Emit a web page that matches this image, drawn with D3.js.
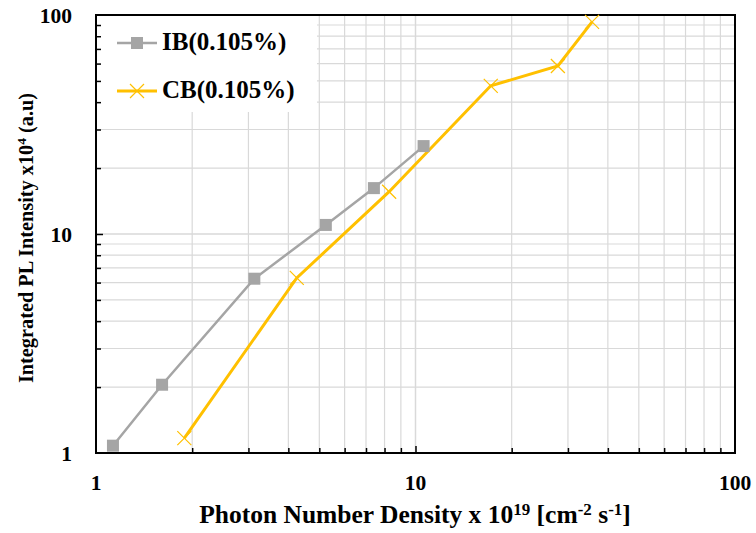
<!DOCTYPE html>
<html><head><meta charset="utf-8">
<script src="https://cdn.jsdelivr.net/npm/d3@7"></script>
<style>
html,body{margin:0;padding:0;background:#fff;}
svg{display:block;font-family:"Liberation Serif","Times New Roman",serif;font-weight:bold;}
</style></head>
<body><svg id="c" width="756" height="533"></svg>
<script>
const ibX = [1.13, 1.61, 3.13, 5.24, 7.41, 10.6];
const ibY = [1.08, 2.05, 6.25, 11.0, 16.2, 25.2];
const cbX = [1.89, 4.25, 8.27, 17.2, 27.9, 35.7];
const cbY = [1.17, 6.3, 15.6, 47.5, 58.5, 93];
const seriesNames = ["IB(0.105%)", "CB(0.105%)"];
const xTicks = [1, 10, 100];
const yTicks = [1, 10, 100];

const W = 756, H = 533;
const m = {l: 96, r: 21, t: 15, b: 80};
const svg = d3.select("#c");
const x = d3.scaleLog().domain([1, 100]).range([m.l, W - m.r]);
const y = d3.scaleLog().domain([1, 100]).range([H - m.b, m.t]);

const minorX = [], minorY = [];
for (const d of [1, 10]) for (let k = 2; k <= 9; k++) { minorX.push(d * k); minorY.push(d * k); }

const grid = svg.append("g");
grid.selectAll(".gx").data(minorX.concat([10])).join("line")
  .attr("x1", d => x(d)).attr("x2", d => x(d))
  .attr("y1", m.t).attr("y2", H - m.b)
  .attr("stroke", "#d9d9d9").attr("stroke-width", d => d === 10 ? 1.5 : 1.2);
grid.selectAll(".gy").data(minorY.concat([10])).join("line")
  .attr("y1", d => y(d)).attr("y2", d => y(d))
  .attr("x1", m.l).attr("x2", W - m.r)
  .attr("stroke", "#d9d9d9").attr("stroke-width", d => d === 10 ? 1.5 : 1.2);

// legend background
svg.append("rect").attr("x", m.l + 1).attr("y", m.t + 1).attr("width", 220).attr("height", 96).attr("fill", "#fff");

// axes
const xAxis = d3.axisBottom(x).tickValues(minorX.concat([10])).tickSize(-5).tickFormat("");
const yAxis = d3.axisLeft(y).tickValues(minorY.concat([10])).tickSize(-5).tickFormat("");
const gx = svg.append("g").attr("transform", `translate(0,${H - m.b})`).call(xAxis);
const gy = svg.append("g").attr("transform", `translate(${m.l},0)`).call(yAxis);
[gx, gy].forEach(g => { g.select(".domain").remove(); g.selectAll("line").attr("stroke", "#000").attr("stroke-width", 1.5); });
gx.selectAll(".tick line").attr("y2", d => d === 10 ? -7 : -5);
gy.selectAll(".tick line").attr("x2", d => d === 10 ? 7 : 5);
svg.append("rect").attr("x", m.l).attr("y", m.t).attr("width", W - m.r - m.l).attr("height", H - m.b - m.t)
  .attr("fill", "none").attr("stroke", "#000").attr("stroke-width", 2);

// tick labels
svg.selectAll(".xl").data(xTicks).join("text")
  .attr("x", d => x(d)).attr("y", 490).attr("text-anchor", "middle")
  .attr("font-size", 21.5).text(d => d);
svg.selectAll(".yl").data(yTicks).join("text")
  .attr("x", 72).attr("y", d => y(d) + 7.5).attr("text-anchor", "end")
  .attr("font-size", 21.5).text(d => d);

// titles
const xt = svg.append("text").attr("x", 415).attr("y", 523).attr("text-anchor", "middle").attr("font-size", 25.5);
xt.append("tspan").text("Photon Number Density x 10");
xt.append("tspan").attr("dy", -8).attr("font-size", 17).text("19");
xt.append("tspan").attr("dy", 8).text(" [cm");
xt.append("tspan").attr("dy", -8).attr("font-size", 17).text("-2");
xt.append("tspan").attr("dy", 8).text(" s");
xt.append("tspan").attr("dy", -8).attr("font-size", 17).text("-1");
xt.append("tspan").attr("dy", 8).text("]");

const yt = svg.append("text").attr("transform", "translate(33,238) rotate(-90)").attr("text-anchor", "middle").attr("font-size", 20.3);
yt.append("tspan").text("Integrated PL Intensity x10");
yt.append("tspan").attr("dy", -7).attr("font-size", 13.5).text("4");
yt.append("tspan").attr("dy", 7).text(" (a.u)");

// series
const ib = ibX.map((v, i) => [v, ibY[i]]);
const cb = cbX.map((v, i) => [v, cbY[i]]);
const line = d3.line().x(d => x(d[0])).y(d => y(d[1]));
svg.append("path").datum(ib).attr("d", line).attr("fill", "none").attr("stroke", "#a5a5a5").attr("stroke-width", 2.5);
svg.append("path").datum(cb).attr("d", line).attr("fill", "none").attr("stroke", "#ffc000").attr("stroke-width", 3);
svg.selectAll(".sq").data(ib).join("rect")
  .attr("x", d => x(d[0]) - 6).attr("y", d => y(d[1]) - 6).attr("width", 12).attr("height", 12).attr("fill", "#a5a5a5");
const cross = (g, cx, cy, s) => g.append("path")
  .attr("d", `M${cx - s},${cy - s}L${cx + s},${cy + s}M${cx - s},${cy + s}L${cx + s},${cy - s}`)
  .attr("stroke", "#ffc000").attr("stroke-width", 1.2).attr("fill", "none");
cb.forEach(d => cross(svg, x(d[0]), y(d[1]), 7));

// legend
const lg = svg.append("g");
lg.append("line").attr("x1", 117).attr("x2", 157).attr("y1", 43).attr("y2", 43).attr("stroke", "#a5a5a5").attr("stroke-width", 2.5);
lg.append("rect").attr("x", 131).attr("y", 37).attr("width", 12).attr("height", 12).attr("fill", "#a5a5a5");
lg.append("text").attr("x", 162).attr("y", 50).attr("font-size", 25).text(seriesNames[0]);
lg.append("line").attr("x1", 117).attr("x2", 157).attr("y1", 91).attr("y2", 91).attr("stroke", "#ffc000").attr("stroke-width", 3);
cross(lg, 137, 91, 7);
lg.append("text").attr("x", 162).attr("y", 98).attr("font-size", 25).text(seriesNames[1]);
</script></body></html>
